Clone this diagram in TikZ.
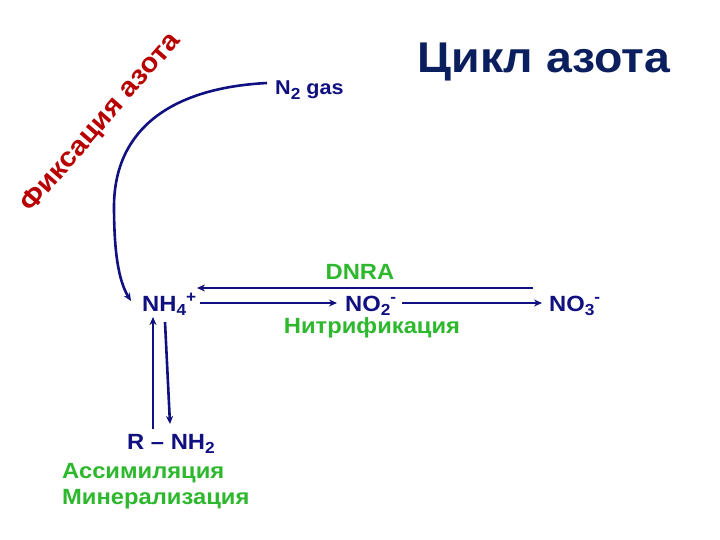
\documentclass[tikz,border=0pt]{standalone}
\usepackage{fontspec}
\setmainfont{Liberation Sans}[FakeStretch=1.08]
\usetikzlibrary{arrows.meta}
\definecolor{navy}{HTML}{101080}
\definecolor{titleblue}{HTML}{0B1F5E}
\definecolor{grn}{HTML}{2DB82D}
\definecolor{dred}{HTML}{B80000}
\newcommand{\mysub}[1]{\raisebox{-0.4ex}{\fontsize{16}{16}\selectfont #1}}
\newcommand{\mysup}[1]{\raisebox{0.75ex}{\fontsize{16}{16}\selectfont #1}}
\begin{document}
\begin{tikzpicture}[x=1pt,y=-1pt,
  chem/.style={font=\fontsize{22}{26}\selectfont\bfseries, text=navy, inner sep=0pt},
  proc/.style={font=\fontsize{22}{26}\selectfont\bfseries, text=grn, inner sep=0pt},
  conn/.style={draw=navy, line width=2.6pt, -{Stealth[length=8pt,width=7pt]}}]
\useasboundingbox[fill=white] (0,0) rectangle (720,540);
% title
\node[font=\fontsize{43}{48}\selectfont\bfseries, text=titleblue, anchor=base, inner sep=0pt] (title) at (544,73) {Цикл азота};
\node[font=\fontsize{27}{31}\selectfont\bfseries, text=dred, rotate=49, inner sep=0pt] (fix) at (101,123) {Фиксация азота};
% species
\node[chem, font=\fontsize{20}{24}\selectfont\bfseries, anchor=base west] (n2) at (275,95) {N\mysub{2} gas};
\node[chem, anchor=base west] (nh4) at (142,311) {NH\mysub{4}\mysup{+}};
\node[chem, anchor=base west] (no2) at (345,311) {NO\mysub{2}\mysup{-}};
\node[chem, anchor=base west] (no3) at (549,311) {NO\mysub{3}\mysup{-}};
\node[chem, anchor=base west] (rnh2) at (127,449) {R -- NH\mysub{2}};
% processes
\node[proc, anchor=base] (dnra) at (360,279) {DNRA};
\node[proc, anchor=base] (nitr) at (372,333) {Нитрификация};
\node[proc, anchor=base west] (assim) at (62,478) {Ассимиляция};
\node[proc, anchor=base west] (miner) at (62,504) {Минерализация};
% connector end points
\coordinate (fixS) at (267,83);
\coordinate (fixE) at (131,301);
\coordinate (dnraS) at (533,288);
\coordinate (dnraE) at (197,288);
\coordinate (f1S) at (200,303);
\coordinate (f1E) at (337,303);
\coordinate (f2S) at (402,303);
\coordinate (f2E) at (542,303);
\coordinate (upS) at (153,429);
\coordinate (upE) at (153,317);
\coordinate (dnS) at (165,322);
\coordinate (dnE) at (170,424);
% connectors
\draw[conn] (fixS) .. controls (170,88) and (115,130) .. (114,205) .. controls (114,250) and (118,280) .. (fixE);
\draw[conn] (dnraS) -- (dnraE);
\draw[conn] (f1S) -- (f1E);
\draw[conn] (f2S) -- (f2E);
\draw[conn] (upS) -- (upE);
\draw[conn] (dnS) -- (dnE);
\end{tikzpicture}
\end{document}
